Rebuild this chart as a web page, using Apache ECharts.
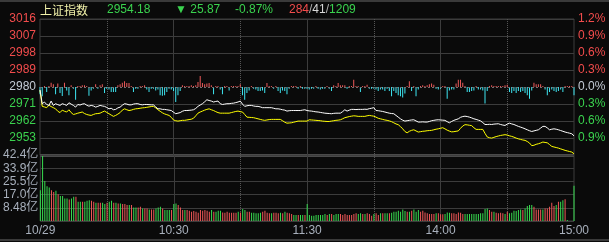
<!DOCTYPE html>
<html><head><meta charset="utf-8">
<script src="https://cdn.jsdelivr.net/npm/echarts@6/dist/echarts.min.js"></script>
<style>html,body{margin:0;padding:0;background:#0a0a0a;}#c{width:609px;height:242px;}</style>
</head><body><div id="c"></div><script>
// ---- header values ----
const indexName = '上证指数';
const prevClose = 2980.05;
const lastPrice = 2954.18;
const change = -25.87;
const changePct = -0.87;
const upCount = 284, flatCount = 41, downCount = 1209;

// ---- tick labels ----
const timeTickIdx = [0, 60, 120, 180, 240];
const timeTickText = ['10/29', '10:30', '11:30', '14:00', '15:00'];
const halfHourIdx = [30, 90, 150, 210];
const volStep = 8.48;
const volMax = 42.4;
const volTickText = ['8.48亿', '17.0亿', '25.5亿', '33.9亿', '42.4亿'];

// ---- index (white) per minute ----
const indexPrice = [
2978.5,2971.2,2972.1,2970.8,2970.3,2972.6,2970.3,2971.2,2970.7,2970.3,
2971.2,2970.8,2970.3,2971.7,2971.0,2970.3,2969.4,2970.8,2970.5,2971.0,
2971.2,2970.4,2969.9,2970.3,2970.0,2969.4,2969.8,2970.3,2970.0,2969.8,
2969.2,2968.5,2968.8,2968.0,2968.2,2969.0,2969.4,2970.4,2971.2,2971.0,
2970.6,2970.6,2971.0,2971.2,2971.2,2970.8,2970.6,2970.8,2970.8,2970.7,
2970.6,2970.6,2969.5,2968.5,2968.5,2968.2,2968.2,2968.0,2967.8,2967.6,
2966.7,2965.9,2966.2,2966.5,2967.2,2967.6,2967.6,2967.7,2967.8,2968.0,
2968.7,2969.8,2970.5,2971.2,2972.2,2973.3,2972.9,2972.6,2972.1,2972.4,
2972.6,2971.2,2970.8,2971.0,2971.2,2971.2,2971.4,2971.5,2971.8,2972.1,
2972.6,2971.0,2969.8,2970.1,2970.3,2970.3,2970.0,2969.8,2969.8,2969.5,
2969.1,2969.1,2969.1,2969.1,2969.1,2968.8,2968.5,2968.5,2968.3,2968.0,
2967.8,2967.3,2967.5,2967.6,2967.6,2967.6,2967.6,2967.6,2967.8,2968.0,
2967.6,2967.4,2967.3,2967.1,2966.9,2966.8,2966.6,2966.4,2966.2,2966.1,
2966.0,2965.9,2966.1,2966.2,2966.2,2966.2,2967.0,2968.0,2967.3,2967.8,
2968.2,2968.2,2968.1,2968.2,2968.2,2968.2,2968.3,2968.2,2968.6,2968.8,
2969.1,2967.6,2967.5,2967.3,2967.1,2966.8,2966.5,2966.2,2966.0,2965.9,
2965.0,2964.1,2963.2,2962.5,2962.0,2962.2,2962.4,2962.6,2962.7,2962.1,
2961.5,2961.5,2961.6,2961.5,2961.5,2961.8,2962.2,2962.4,2962.6,2962.7,
2962.6,2962.5,2962.4,2961.7,2961.1,2961.8,2962.4,2962.8,2963.2,2964.0,
2964.4,2964.6,2964.4,2964.1,2963.7,2963.2,2962.9,2962.5,2962.1,2961.2,
2960.2,2960.2,2960.3,2960.2,2960.4,2960.5,2960.6,2960.2,2959.9,2959.7,
2960.4,2960.9,2960.5,2960.2,2959.7,2959.2,2958.8,2958.4,2957.9,2957.4,
2956.9,2956.5,2956.8,2957.1,2957.4,2958.3,2959.2,2959.2,2958.4,2957.4,
2957.7,2957.9,2957.7,2957.4,2957.0,2956.6,2956.2,2955.9,2955.6,2955.3,
2954.18];

// ---- yellow line per minute ----
const leadPrice = [
2978.2,2969.8,2969.5,2969.1,2970.4,2969.7,2969.1,2968.5,2967.2,2966.5,
2967.8,2967.2,2966.8,2968.0,2966.5,2965.5,2965.8,2966.2,2966.5,2966.8,
2966.0,2965.5,2965.2,2965.0,2965.5,2965.9,2966.0,2966.2,2966.8,2967.3,
2966.6,2965.9,2965.2,2964.5,2965.0,2965.7,2966.5,2967.8,2968.5,2968.0,
2967.6,2967.8,2968.2,2968.5,2968.6,2968.8,2969.0,2969.1,2969.3,2969.5,
2969.7,2969.8,2969.0,2968.0,2967.2,2966.4,2965.8,2965.4,2965.0,2964.0,
2962.6,2962.2,2962.0,2962.2,2962.4,2962.4,2962.6,2962.8,2963.0,2963.5,
2964.8,2966.2,2966.8,2967.3,2967.8,2968.2,2968.5,2968.0,2967.6,2967.0,
2966.5,2966.2,2966.2,2966.2,2966.2,2966.2,2966.5,2966.8,2967.1,2967.3,
2967.0,2966.8,2965.5,2964.1,2964.0,2963.9,2963.8,2963.5,2963.2,2962.9,
2962.6,2962.4,2962.6,2962.8,2962.9,2962.9,2962.9,2962.9,2962.9,2962.2,
2961.4,2960.9,2961.0,2961.1,2961.4,2961.7,2962.0,2962.0,2962.0,2962.0,
2962.0,2962.7,2962.6,2962.5,2962.4,2962.3,2962.2,2962.0,2961.9,2961.8,
2961.8,2962.0,2962.2,2962.4,2962.5,2962.7,2963.2,2963.8,2964.1,2964.4,
2964.6,2964.8,2964.7,2964.5,2964.5,2964.5,2964.5,2964.8,2965.0,2964.8,
2964.6,2964.1,2963.5,2963.2,2962.9,2962.6,2962.4,2962.1,2961.7,2961.1,
2960.5,2960.1,2959.1,2957.9,2956.5,2955.8,2956.6,2957.1,2957.4,2956.8,
2956.2,2956.4,2956.6,2956.7,2956.9,2957.0,2957.1,2957.4,2957.7,2957.9,
2958.2,2958.5,2957.9,2957.2,2956.7,2956.3,2956.4,2956.6,2956.8,2958.2,
2959.4,2960.1,2960.0,2959.8,2959.6,2958.5,2957.6,2957.6,2957.6,2957.6,
2955.5,2953.6,2953.2,2953.0,2953.4,2953.8,2954.1,2954.4,2954.6,2954.8,
2954.6,2954.2,2953.9,2953.5,2953.0,2952.6,2952.3,2952.0,2951.8,2951.2,
2950.4,2949.0,2949.2,2949.7,2950.0,2950.4,2950.9,2950.7,2950.5,2949.6,
2948.6,2948.3,2948.0,2947.7,2947.3,2946.9,2946.5,2946.2,2945.9,2945.6,
2944.7];

// ---- red / cyan breadth bars (index points) ----
const breadth = [
-3.9,-4.9,0.5,-2.6,0.5,2.3,1.4,-3.9,1.8,-3.2,
-4.8,2.3,-1.8,-4.4,0.9,-0.9,-6.7,0.5,0.5,0.9,
0.9,0.5,-4.6,-1.8,-0.9,1.4,-0.9,0.9,1.4,-3.2,
-0.9,-1.3,-2.6,-2.6,-2.6,0.9,1.4,2.3,3.0,2.1,
2.1,0.5,-2.6,-0.9,-0.9,0.5,0.5,0.9,-1.3,-2.6,
-0.9,-0.9,-1.8,-1.3,-4.4,-4.6,-4.4,-2.6,-0.9,-1.3,
-2.1,-7.9,-4.4,-2.1,0.9,0.5,0.5,0.5,0.9,0.5,
0.9,2.6,5.8,2.1,1.4,1.8,2.1,0.9,-3.9,0.5,
0.5,-1.3,-3.9,0.5,0.5,-1.8,0.5,0.5,0.5,0.5,
1.4,-4.4,-6.7,-3.2,-1.8,0.5,-0.9,-1.3,-2.1,-2.1,
-1.8,-3.2,2.1,0.5,0.5,-0.9,0.5,-2.1,-3.2,-1.8,
-2.1,-3.9,-0.9,0.5,0.5,0.5,-0.9,0.5,-0.9,-0.9,
-0.9,-1.3,-0.9,-0.9,0.5,-0.9,-1.3,-0.9,-0.9,0.5,
-0.9,-2.1,0.9,0.5,2.1,0.9,0.9,0.9,-0.9,0.5,
0.5,3.9,0.5,0.5,-2.6,0.5,0.5,1.2,-0.9,-0.9,
-0.9,-1.3,-2.1,-1.3,-1.3,-2.1,-0.9,-2.1,-4.9,-2.1,
-3.2,-4.4,-4.9,-5.6,-3.5,0.5,3.0,-2.1,0.5,-4.9,
-1.3,0.5,0.9,0.5,0.9,1.4,1.8,1.2,-0.9,-1.3,
-0.9,0.5,0.5,-6.2,-1.8,-1.3,-1.3,1.8,3.9,3.9,
2.3,0.5,-2.6,-2.6,-2.1,-1.8,0.5,-1.3,-1.3,-1.8,
-8.8,-2.1,0.5,0.9,0.5,0.5,0.5,0.5,0.5,0.9,
1.2,-2.6,-3.2,-2.1,-3.2,-2.1,-2.6,-2.1,-3.2,-4.4,
-6.2,-1.8,2.3,1.4,1.4,1.4,0.5,-1.3,-4.4,-2.6,
-1.3,-2.1,-2.6,-2.1,-1.3,-2.6,0.5,0.5,0.5,0.5,
-4.4];

// ---- volume (亿) per minute and up(1)/down(0) ----
const volume = [
19.8,41.7,25.7,22.3,21.5,19.8,18.7,19.4,17.2,16.0,
16.0,14.5,14.5,13.8,14.5,15.5,15.5,12.3,12.3,12.3,
12.3,13.0,13.4,13.0,12.3,11.7,11.7,11.7,11.7,10.9,
11.7,12.3,13.0,11.7,11.7,11.3,11.3,10.9,10.9,10.2,
10.2,10.2,8.7,8.7,8.7,9.1,8.1,8.1,8.1,7.4,
7.4,7.4,8.1,8.7,9.1,8.1,7.0,7.0,7.0,7.0,
10.9,11.3,10.2,8.7,7.0,7.0,7.0,6.6,6.0,6.4,
6.0,5.3,7.0,6.6,7.0,6.6,6.0,7.0,6.0,6.0,
6.6,6.6,5.5,5.3,6.0,5.3,5.3,5.3,5.3,6.0,
5.5,7.7,7.0,6.0,6.0,5.3,5.3,4.9,4.9,5.3,
6.0,6.6,5.3,4.9,4.9,5.3,5.3,4.9,5.3,4.9,
6.0,5.3,4.9,4.5,3.8,3.8,3.8,3.8,3.8,3.8,
10.9,3.8,3.4,3.4,3.8,3.8,3.8,3.8,4.5,3.8,
4.5,4.5,3.8,4.5,4.5,4.5,3.8,4.5,3.8,3.8,
3.8,4.5,4.9,4.5,4.9,4.5,4.5,4.9,4.5,3.4,
4.5,4.9,3.8,4.9,4.9,4.9,4.9,4.9,5.3,6.0,
6.0,6.6,6.0,7.4,6.4,6.0,6.0,6.6,7.4,6.0,
7.0,6.0,6.6,5.5,4.9,4.5,4.5,4.5,4.9,4.9,
4.3,4.3,4.5,5.5,5.3,4.9,4.9,4.5,5.5,5.3,
4.5,4.5,4.5,4.5,4.5,4.5,4.5,4.5,4.9,4.9,
7.7,8.1,7.0,6.0,6.0,5.3,4.9,5.3,4.9,4.5,
6.0,4.9,5.3,6.6,6.4,7.0,7.4,7.0,8.1,9.6,
10.2,10.2,9.1,7.4,7.4,7.4,7.4,8.1,8.1,9.1,
11.7,9.6,10.2,12.3,12.3,13.4,14.0,0.6,0,0,
22.6];
const volumeUp = [
0,0,0,0,0,1,1,0,1,0, 0,0,0,1,0,0,1,0,0,1, 0,0,0,1,1,0,1,1,0,0,
1,0,0,1,0,1,0,1,1,1, 0,1,0,0,1,1,0,1,1,0, 1,1,0,0,0,1,0,0,0,1,
0,0,1,1,1,0,1,1,1,1, 1,1,1,1,1,1,1,0,1,0, 0,0,1,1,1,1,1,1,1,0,
1,0,0,1,1,0,0,0,0,0, 1,1,1,1,0,1,1,1,0,1, 0,1,1,1,0,0,1,0,0,1,
0,0,0,0,0,0,0,0,0,1, 0,1,0,0,0,1,1,1,1,1, 1,1,1,0,0,1,0,1,1,1,
0,1,1,0,1,0,0,1,0,0, 0,0,0,0,0,1,0,1,0,0, 0,1,1,1,1,1,1,1,0,1,
1,1,0,0,0,1,1,1,1,1, 1,0,0,0,0,0,0,0,0,0, 0,0,1,1,0,1,1,1,1,0,
1,0,0,0,0,0,0,1,0,0, 0,0,1,1,1,1,0,1,1,1, 1,1,0,1,0,0,1,0,0,0,
0];

// ---- minute categories ----
function hm(m){const h=Math.floor(m/60),mm=m%60;return h+':'+(mm<10?'0':'')+mm;}
const minutes=[];
for(let m=570;m<=690;m++) minutes.push(hm(m));
for(let m=781;m<=900;m++) minutes.push(hm(m));

// ---- style ----
const FONT = "Arial, 'Liberation Sans', 'Noto Sans CJK SC', sans-serif";
const RED = '#f24c4c', GREEN = '#3ad24e', ZERO = '#c4ccd6', AXISTXT = '#a8b0bc';
const GRID = '#3c3c3c', DOT = '#555555';
const BAR_RED = '#ee5a5a', BAR_CYAN = '#3ee6f2', VOL_RED = '#f05858', VOL_GREEN = '#38dc50';

const priceColor = v => { v = Number(v); return v > 0.01 ? RED : (v < -0.01 ? GREEN : ZERO); };
const hGridColors = ['#3c3c3c','#3c3c3c','#3c3c3c','#3c3c3c','rgba(0,0,0,0)','#3c3c3c','#3c3c3c','#3c3c3c','#3c3c3c'];

function catAxis(grid, splitIdx, type, color, withLabels){
  return {
    type:'category', gridIndex:grid, data:minutes, boundaryGap:false,
    axisLine:{show:false}, axisTick:{show:false},
    axisLabel: withLabels ? {
      show:true, interval:(i)=>timeTickIdx.indexOf(i)>=0, margin:4,
      color:AXISTXT, fontSize:12, fontFamily:FONT,
      formatter:(v,i)=>timeTickText[timeTickIdx.indexOf(i)]
    } : {show:false},
    splitLine:{show:true, interval:(i)=>splitIdx.indexOf(i)>=0, lineStyle:{color:color, type:type, width:1}}
  };
}

const chart = echarts.init(document.getElementById('c'), null, {renderer:'canvas'});
chart.setOption({
  backgroundColor:'#0a0a0a',
  animation:false,
  grid:[
    {left:40, right:35, top:19, height:136, show:true, borderColor:GRID, borderWidth:1, backgroundColor:'transparent'},
    {left:40, right:35, top:155, height:66, show:true, borderColor:GRID, borderWidth:1, backgroundColor:'transparent'}
  ],
  xAxis:[
    catAxis(0, [60,120,180], 'solid', GRID, false),
    catAxis(0, halfHourIdx, 'dotted', DOT, false),
    catAxis(1, [60,120,180], 'solid', GRID, true),
    catAxis(1, halfHourIdx, 'dotted', DOT, false)
  ],
  yAxis:[
    {type:'value', gridIndex:0, position:'left', min:-36, max:36, interval:9,
     axisLine:{show:false}, axisTick:{show:false},
     splitLine:{show:true, lineStyle:{color:hGridColors, width:1}},
     axisLabel:{showMinLabel:false, showMaxLabel:true, margin:4, fontSize:12, fontFamily:FONT,
       formatter:v=>String(Math.round(prevClose+Number(v))), color:priceColor}},
    {type:'value', gridIndex:0, position:'right', min:-36, max:36, interval:9,
     axisLine:{show:false}, axisTick:{show:false}, splitLine:{show:false},
     axisLabel:{showMinLabel:false, showMaxLabel:true, margin:4, fontSize:12, fontFamily:FONT,
       formatter:v=>(Math.abs(Number(v))/prevClose*100).toFixed(1)+'%', color:priceColor}},
    {type:'value', gridIndex:1, position:'left', min:0, max:volMax, interval:volStep,
     axisLine:{show:false}, axisTick:{show:false},
     splitLine:{show:true, lineStyle:{color:GRID, width:1}},
     axisLabel:{showMinLabel:false, showMaxLabel:true, margin:2, fontSize:12, fontFamily:FONT, color:AXISTXT,
       formatter:v=>volTickText[Math.round(Number(v)/volStep)-1] || ''}}
  ],
  series:[
    {type:'bar', xAxisIndex:0, yAxisIndex:0, barWidth:1,
     data:breadth.map(v=>({value:v, itemStyle:{color: v>=0 ? BAR_RED : BAR_CYAN}})),
     markLine:{silent:true, symbol:'none', label:{show:false},
       lineStyle:{color:'#707070', type:[2,2], width:1}, data:[{yAxis:0}]}},
    {type:'line', xAxisIndex:0, yAxisIndex:0, showSymbol:false, symbol:'none',
     lineStyle:{color:'#ffff00', width:1}, data:leadPrice.map(p=>+(p-prevClose).toFixed(3))},
    {type:'line', xAxisIndex:0, yAxisIndex:0, showSymbol:false, symbol:'none',
     lineStyle:{color:'#ffffff', width:1}, data:indexPrice.map(p=>+(p-prevClose).toFixed(3))},
    {type:'bar', xAxisIndex:2, yAxisIndex:2, barWidth:1,
     data:volume.map((v,i)=>({value:v, itemStyle:{color: volumeUp[i] ? VOL_RED : VOL_GREEN}}))}
  ],
  graphic:[
    {type:'rect', silent:true, shape:{x:0, y:0, width:609, height:2}, style:{fill:'#3a3a3a'}},
    {type:'rect', silent:true, shape:{x:40, y:154, width:534, height:3}, style:{fill:'#4a4a4a'}},
    {type:'rect', silent:true, shape:{x:0, y:239, width:609, height:2}, style:{fill:'#3a3a3a'}},
    {type:'text', silent:true, x:40, y:10, style:{text:indexName, fill:'#f2f2aa', font:"12px 'Noto Sans CJK SC', sans-serif", verticalAlign:'middle', textVerticalAlign:'middle'}},
    {type:'text', silent:true, x:107, y:10, style:{text:lastPrice.toFixed(2), fill:GREEN, font:'12px '+FONT, verticalAlign:'middle', textVerticalAlign:'middle'}},
    {type:'text', silent:true, x:175, y:10, style:{text:(change<0?'▼ ':'▲ ')+Math.abs(change).toFixed(2), fill:GREEN, font:'12px '+FONT, verticalAlign:'middle', textVerticalAlign:'middle'}},
    {type:'text', silent:true, x:235, y:10, style:{text:changePct.toFixed(2)+'%', fill:GREEN, font:'12px '+FONT, verticalAlign:'middle', textVerticalAlign:'middle'}},
    {type:'text', silent:true, x:289, y:10, style:{
      text:'{r|'+upCount+'}{s|/}{w|'+flatCount+'}{s|/}{g|'+downCount+'}',
      font:'12px '+FONT, verticalAlign:'middle', textVerticalAlign:'middle',
      rich:{r:{fill:RED, color:RED, font:'12px '+FONT}, s:{fill:'#b0b0b0', color:'#b0b0b0', font:'12px '+FONT},
            w:{fill:'#d8d8d8', color:'#d8d8d8', font:'12px '+FONT}, g:{fill:GREEN, color:GREEN, font:'12px '+FONT}}}}
  ]
});
</script></body></html>
